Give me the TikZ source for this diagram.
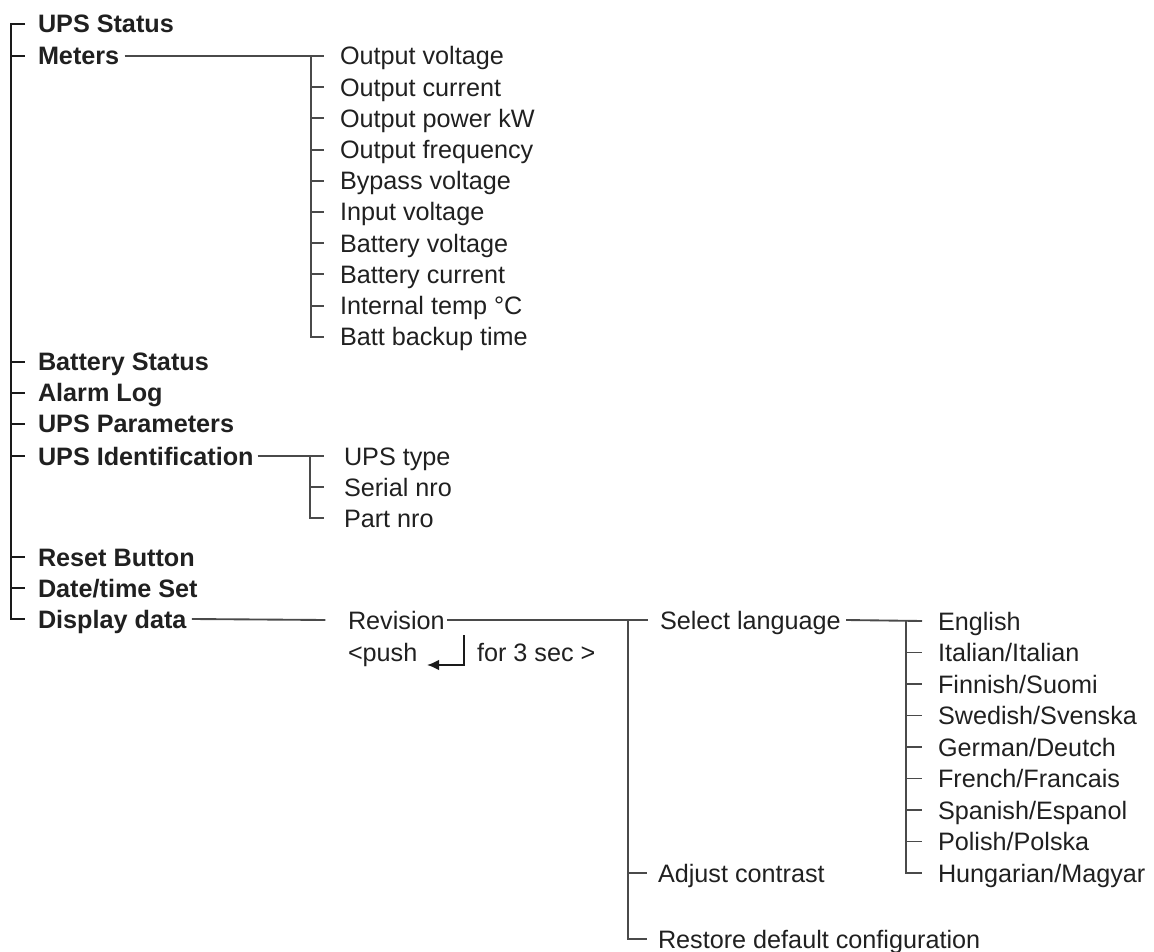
\documentclass[tikz,border=0pt]{standalone}
\usepackage{fontspec}
\setmainfont{Liberation Sans}
\usetikzlibrary{arrows.meta}
\definecolor{txt}{HTML}{202020}
\definecolor{mainc}{HTML}{1A1A1A}
\definecolor{subc}{HTML}{4A4A4A}
\begin{document}
\begin{tikzpicture}[x=0.75pt,y=-0.75pt,
  every node/.style={inner sep=0pt, outer sep=0pt, anchor=west, text height=13.5pt, text depth=0pt,
    font=\fontsize{18.9}{22}\selectfont, text=txt},
  topitem/.style={font=\fontsize{18.9}{22}\selectfont\bfseries},
  mainline/.style={draw=mainc, line width=2.2pt},
  subline/.style={draw=subc, line width=1.4pt},
  pusharrow/.style={draw=mainc, line width=1.4pt, -{Latex[length=9pt,width=8pt]}},
]
\useasboundingbox (0,0) rectangle (1154,952);

% main column
\node[topitem] (ups) at (38,24)  {UPS Status};
\node[topitem] (met) at (38,56)  {Meters};
\node[topitem] (bat) at (38,362) {Battery Status};
\node[topitem] (alm) at (38,393) {Alarm Log};
\node[topitem] (par) at (38,424) {UPS Parameters};
\node[topitem] (idn) at (38,456) {UPS Identification};
\node[topitem] (rst) at (38,557) {Reset Button};
\node[topitem] (dat) at (38,588) {Date/time Set};
\node[topitem] (dsp) at (38,619) {Display data};

% meters children
\node (m1)  at (340,56)    {Output voltage};
\node (m2)  at (340,87.2)  {Output current};
\node (m3)  at (340,118.4) {Output power kW};
\node (m4)  at (340,149.6) {Output frequency};
\node (m5)  at (340,180.8) {Bypass voltage};
\node (m6)  at (340,212)   {Input voltage};
\node (m7)  at (340,243.2) {Battery voltage};
\node (m8)  at (340,274.4) {Battery current};
\node (m9)  at (340,305.6) {Internal temp °C};
\node (m10) at (340,336.8) {Batt backup time};

% identification children
\node (i1) at (344,456) {UPS type};
\node (i2) at (344,487) {Serial nro};
\node (i3) at (344,518) {Part nro};

% display data
\node (rev)  at (348,620) {Revision};
\node (push) at (348,652) {<push};
\node (sec)  at (477,652) {for 3 sec >};
\node (sel)  at (660,620) {Select language};
\node (adj)  at (658,873) {Adjust contrast};
\node (rdc)  at (658,939) {Restore default configuration};

% languages
\node (l1) at (938,621)   {English};
\node (l2) at (938,652.5) {Italian/Italian};
\node (l3) at (938,684)   {Finnish/Suomi};
\node (l4) at (938,715.5) {Swedish/Svenska};
\node (l5) at (938,747)   {German/Deutch};
\node (l6) at (938,778.5) {French/Francais};
\node (l7) at (938,810)   {Spanish/Espanol};
\node (l8) at (938,841.5) {Polish/Polska};
\node (l9) at (938,873)   {Hungarian/Magyar};

% trunk coordinates
\coordinate (mt) at (11,0);
\coordinate (mb) at (311,0);
\coordinate (ib) at (310,0);
\coordinate (sb) at (628,0);
\coordinate (lb) at (906,0);

% main trunk
\draw[mainline] (ups.west -| mt) ++(14,0) -- (ups.west -| mt) -- (dsp.west -| mt) -- ++(14,0);
\foreach \n in {met,bat,alm,par,idn,rst,dat}
  \draw[mainline] (\n.west -| mt) -- ++(14,0);

% meters branch
\draw[subline] ([xshift=4pt]met.east) -- ([xshift=-12pt]m1.west);
\draw[subline] (m1.west -| mb) -- (m10.west -| mb) -- ++(13,0);
\foreach \n in {m2,m3,m4,m5,m6,m7,m8,m9}
  \draw[subline] (\n.west -| mb) -- ++(13,0);

% identification branch
\draw[subline] ([xshift=3pt]idn.east) -- ([xshift=-15pt]i1.west);
\draw[subline] (i1.west -| ib) -- (i3.west -| ib) -- ++(14,0);
\draw[subline] (i2.west -| ib) -- ++(14,0);

% display data branch
\draw[subline] ([xshift=4pt]dsp.east) -- ([xshift=-17pt]rev.west);
\draw[subline] ([xshift=2pt]rev.east) -- ([xshift=-9pt]sel.west);
\draw[subline] (sel.west -| sb) -- (rdc.west -| sb) -- ++(19,0);
\draw[subline] (adj.west -| sb) -- ++(19,0);

% push arrow
\coordinate (pa) at (464,635);
\draw[pusharrow] (pa) -- ++(0,30) -- ++(-37,0);

% language branch
\draw[subline] ([xshift=4pt]sel.east) -- ([xshift=-12pt]l1.west);
\draw[subline] (l1.west -| lb) -- (l9.west -| lb) -- ++(16,0);
\foreach \n in {l2,l3,l4,l5,l6,l7,l8}
  \draw[subline] (\n.west -| lb) -- ++(16,0);
\end{tikzpicture}
\end{document}
